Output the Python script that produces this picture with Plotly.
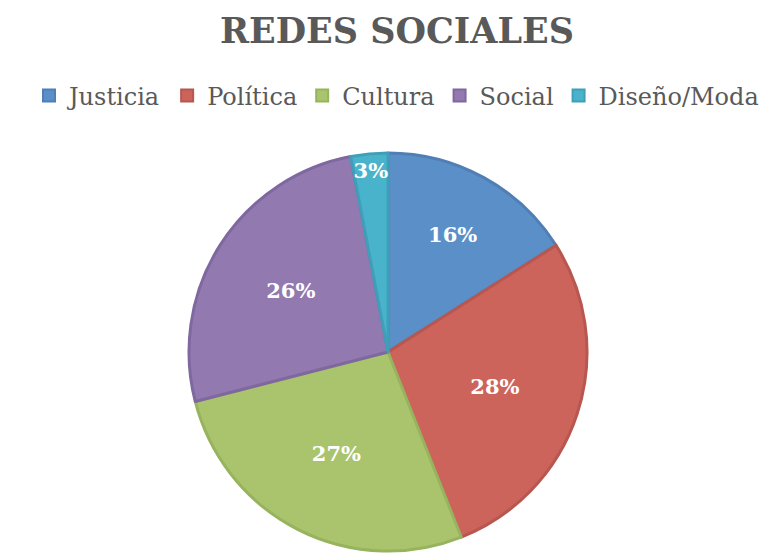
import plotly.graph_objects as go

categories = ["Justicia", "Política", "Cultura", "Social", "Diseño/Moda"]
values = [16, 28, 27, 26, 3]
colors = ["#5b8fc8", "#cd645c", "#a9c46c", "#9279b0", "#4ab3cc"]
border_colors = ["#4f7fb5", "#b85650", "#98b35e", "#7f68a0", "#3f9fb8"]
title_text = "REDES SOCIALES"

W, H = 777, 554
cx, cy, r = 380, 344, 199

fig = go.Figure(go.Pie(
    labels=categories,
    values=values,
    sort=False,
    direction="clockwise",
    rotation=0,
    marker=dict(colors=colors, line=dict(color=border_colors, width=3)),
    textinfo="percent",
    texttemplate="%{percent:.0%}",
    textposition="inside",
    insidetextorientation="horizontal",
    textfont=dict(family="DejaVu Serif", size=21, color="white", weight="bold"),
    hoverinfo="label+percent",
    domain=dict(x=[(cx - r) / W, (cx + r) / W], y=[(H - cy - r) / H, (H - cy + r) / H]),
))

fig.add_annotation(
    text="<b>" + title_text + "</b>", x=0.5, y=1, xref="paper", yref="paper",
    xanchor="center", yanchor="top", showarrow=False,
    font=dict(family="DejaVu Serif", size=35, color="#595959"),
)

fig.update_layout(
    width=W, height=H,
    margin=dict(l=0, r=0, t=0, b=0),
    paper_bgcolor="white",
    plot_bgcolor="white",
    uniformtext=dict(minsize=21, mode="show"),
    legend=dict(orientation="h", x=0.5, xanchor="center", y=1 - 88 / H, yanchor="middle",
                font=dict(family="DejaVu Serif", size=24, color="#595959"),
                itemsizing="constant", traceorder="normal", itemwidth=30),
    showlegend=True,
)

fig.write_html("out.html")
